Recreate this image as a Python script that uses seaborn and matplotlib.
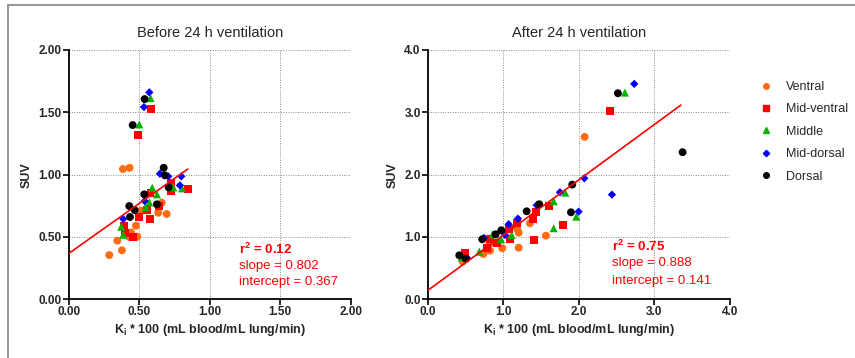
import numpy as np
import pandas as pd
import matplotlib
matplotlib.use('Agg')
import matplotlib.pyplot as plt
import seaborn as sns
from matplotlib.lines import Line2D

# regions and styles
regions = ['Ventral', 'Mid-ventral', 'Middle', 'Mid-dorsal', 'Dorsal']
colors = ['#FF6A13', '#FF0000', '#00B400', '#0000FF', '#000000']
markers = ['o', 's', '^', 'D', 'o']

# before 24 h ventilation (Ki*100, SUV)
before_ventral_x = [0.385, 0.432, 0.66, 0.515, 0.635, 0.695, 0.477, 0.442, 0.428, 0.487, 0.345, 0.378, 0.288]
before_ventral_y = [1.045, 1.055, 0.775, 0.711, 0.694, 0.684, 0.59, 0.537, 0.502, 0.502, 0.47, 0.393, 0.355]
before_midventral_x = [0.584, 0.489, 0.726, 0.728, 0.846, 0.581, 0.638, 0.557, 0.499, 0.577, 0.394, 0.399, 0.458]
before_midventral_y = [1.524, 1.318, 0.933, 0.868, 0.887, 0.852, 0.748, 0.716, 0.66, 0.646, 0.585, 0.534, 0.497]
before_middle_x = [0.581, 0.501, 0.742, 0.804, 0.593, 0.626, 0.572, 0.546, 0.373, 0.387]
before_middle_y = [1.614, 1.403, 0.898, 0.89, 0.895, 0.842, 0.778, 0.738, 0.582, 0.518]
before_middorsal_x = [0.572, 0.534, 0.647, 0.706, 0.799, 0.789, 0.539, 0.387]
before_middorsal_y = [1.66, 1.542, 1.007, 0.986, 0.986, 0.914, 0.788, 0.644]
before_dorsal_x = [0.539, 0.454, 0.674, 0.683, 0.709, 0.536, 0.626, 0.43, 0.468, 0.435]
before_dorsal_y = [1.606, 1.398, 1.055, 0.994, 0.898, 0.842, 0.762, 0.748, 0.716, 0.66]

# after 24 h ventilation
after_ventral_x = [2.077, 1.353, 1.565, 1.204, 1.185, 1.204, 0.987, 0.815, 0.824, 0.736, 0.463]
after_ventral_y = [2.605, 1.22, 1.021, 0.828, 1.124, 1.069, 0.819, 0.883, 0.78, 0.727, 0.604]
after_midventral_x = [2.416, 1.604, 1.432, 1.397, 1.786, 1.402, 1.177, 1.075, 1.089, 0.824, 0.913, 0.78, 0.489]
after_midventral_y = [3.022, 1.493, 1.401, 1.289, 1.193, 0.952, 1.22, 1.128, 0.973, 0.963, 0.899, 0.819, 0.738]
after_middle_x = [2.61, 1.82, 1.667, 1.966, 1.667, 1.111, 0.86, 0.97, 0.683, 0.45]
after_middle_y = [3.317, 1.711, 1.573, 1.326, 1.14, 1.032, 1.043, 0.963, 0.764, 0.674]
after_middorsal_x = [2.733, 2.072, 2.438, 1.75, 1.442, 1.997, 1.194, 1.071, 1.022, 0.745, 0.529]
after_middorsal_y = [3.456, 1.942, 1.679, 1.717, 1.509, 1.406, 1.294, 1.204, 1.032, 0.984, 0.652]
after_dorsal_x = [2.517, 1.913, 1.476, 1.31, 1.896, 0.974, 0.899, 0.722, 0.418, 0.503, 3.373]
after_dorsal_y = [3.306, 1.84, 1.525, 1.412, 1.396, 1.107, 1.043, 0.963, 0.706, 0.652, 2.36]

# linear fits
before_fit = {'r2': '0.12', 'slope': 0.802, 'intercept': 0.367, 'xmax': 0.845}
after_fit = {'r2': '0.75', 'slope': 0.888, 'intercept': 0.141, 'xmax': 3.35}


def make_df(xs, ys):
    rows = []
    for reg, x, y in zip(regions, xs, ys):
        for a, b in zip(x, y):
            rows.append({'Ki': a, 'SUV': b, 'Region': reg})
    return pd.DataFrame(rows)


before_df = make_df([before_ventral_x, before_midventral_x, before_middle_x, before_middorsal_x, before_dorsal_x],
                    [before_ventral_y, before_midventral_y, before_middle_y, before_middorsal_y, before_dorsal_y])
after_df = make_df([after_ventral_x, after_midventral_x, after_middle_x, after_middorsal_x, after_dorsal_x],
                   [after_ventral_y, after_midventral_y, after_middle_y, after_middorsal_y, after_dorsal_y])

sns.set_style('white')
plt.rcParams['font.family'] = ['Liberation Sans', 'DejaVu Sans']

fig = plt.figure(figsize=(8.55, 3.58), dpi=100)
ax1 = fig.add_axes([0.0803, 0.164, 0.3298, 0.6964])
ax2 = fig.add_axes([0.5002, 0.164, 0.3536, 0.6964])

# frame around the figure
fig.add_artist(plt.Line2D([0.009, 0.009], [0, 0.985], color='#999999', lw=1.5))
fig.add_artist(plt.Line2D([0.009, 1.0], [0.985, 0.985], color='#999999', lw=1.5))

palette = dict(zip(regions, colors))
mk = dict(zip(regions, markers))
sizes = {'o': 32, 's': 32, '^': 34, 'D': 18}


def draw(ax, df, fit, xmax, ymax, xstep, ystep, fmt, title, tpos):
    for reg in regions:
        sub = df[df['Region'] == reg]
        sns.scatterplot(data=sub, x='Ki', y='SUV', color=palette[reg], marker=mk[reg],
                        s=sizes[mk[reg]], edgecolor='none', linewidth=0, ax=ax, zorder=3)
    xs = np.linspace(0, fit['xmax'], 50)
    ax.plot(xs, fit['intercept'] + fit['slope'] * xs, color='#FF0000', lw=1.2, zorder=4)
    ax.set_xlim(0, xmax)
    ax.set_ylim(0, ymax)
    ax.set_xticks(np.arange(0, xmax + 1e-9, xstep))
    ax.set_yticks(np.arange(0, ymax + 1e-9, ystep))
    ax.xaxis.set_major_formatter(matplotlib.ticker.FormatStrFormatter(fmt))
    ax.yaxis.set_major_formatter(matplotlib.ticker.FormatStrFormatter(fmt))
    ax.grid(True, color='#888888', linestyle=(0, (1, 1.5)), linewidth=0.7)
    ax.set_axisbelow(True)
    sns.despine(ax=ax)
    for sp in ['left', 'bottom']:
        ax.spines[sp].set_color('black')
        ax.spines[sp].set_linewidth(1.3)
    ax.tick_params(axis='both', direction='out', length=4, width=1.2, color='black',
                   labelsize=8.5, pad=1, bottom=True, left=True)
    for lab in ax.get_xticklabels() + ax.get_yticklabels():
        lab.set_fontweight('bold')
    ax.set_xlabel('K$_\\mathregular{i}$ * 100 (mL blood/mL lung/min)', fontsize=9, fontweight='bold', labelpad=3)
    ax.set_ylabel('SUV', fontsize=9, fontweight='bold', labelpad=4)
    ax.set_title(title, fontsize=10.5, pad=9)
    ax.text(tpos[0], tpos[1], 'r$^\\mathregular{2}$ = ' + fit['r2'], transform=ax.transAxes,
            color='#FF0000', fontsize=9.5, fontweight='bold', va='center')
    ax.text(tpos[0], tpos[2], 'slope = %.3f' % fit['slope'], transform=ax.transAxes,
            color='#FF0000', fontsize=9.5, va='center')
    ax.text(tpos[0], tpos[3], 'intercept = %.3f' % fit['intercept'], transform=ax.transAxes,
            color='#FF0000', fontsize=9.5, va='center')


draw(ax1, before_df, before_fit, 2.0, 2.0, 0.5, 0.5, '%.2f', 'Before 24 h ventilation', (0.605, 0.2, 0.134, 0.069))
draw(ax2, after_df, after_fit, 4.0, 4.0, 1.0, 1.0, '%.1f', 'After 24 h ventilation', (0.609, 0.211, 0.144, 0.075))

handles = [Line2D([], [], color=c, marker=m, linestyle='none', markersize=4 if m != 'D' else 3.2)
           for c, m in zip(colors, markers)]
fig.legend(handles, regions, loc='upper left', bbox_to_anchor=(0.874, 0.805), frameon=False,
           fontsize=9, handletextpad=1.0, labelspacing=0.83, handlelength=1.2)

fig.savefig('out.png', dpi=100)
